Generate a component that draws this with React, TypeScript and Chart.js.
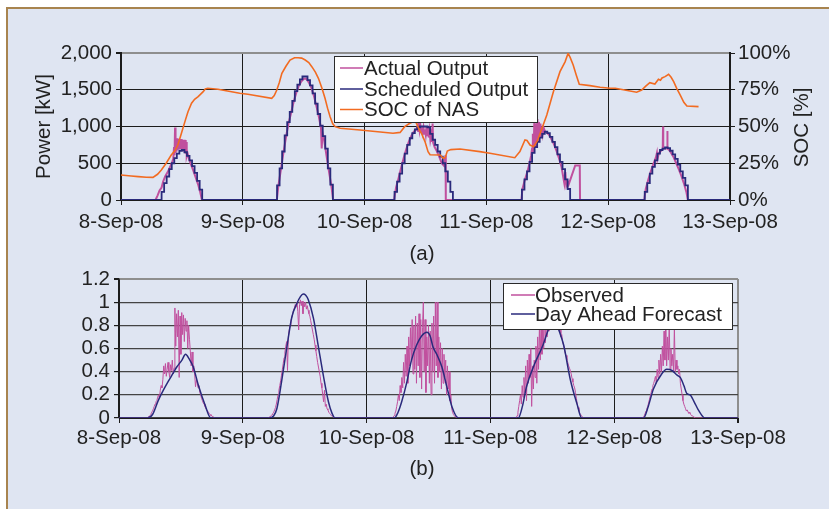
import React, { useEffect, useRef } from 'react';
import { Chart, registerables } from 'chart.js';

Chart.register(...registerables);

const FONT = '"Liberation Sans", Arial, Helvetica, sans-serif';
const FSIZE = 20.5;
const TEXT = '#222222';
const GRID = '#1c1c1c';
const GRAY = '#8e8e8e';
const PINK = '#c0509e';
const NAVY = '#2a2a7c';
const ORANGE = '#f26b21';

// ---------- shared axis labels ----------
const dayLabels = ['8-Sep-08', '9-Sep-08', '10-Sep-08', '11-Sep-08', '12-Sep-08', '13-Sep-08'];
const totalHours = 120;
const hoursPerDay = 24;

// ---------- (a) Scheduled output: half-hour steps (kW) ----------
const schedStarts = [8.0, 30.75, 53.9, 79.0, 103.2];
const schedStep = 0.5;
const schedDay1 = [110, 230, 320, 420, 500, 570, 630, 670, 680, 650, 600, 540, 460, 370, 260, 140];
const schedDay2 = [200, 430, 660, 880, 1060, 1200, 1350, 1480, 1570, 1640, 1680, 1680, 1630, 1560, 1450, 1310, 1170, 1010, 870, 700, 430, 210];
const schedDay3 = [110, 250, 360, 500, 630, 750, 840, 910, 960, 990, 1000, 1000, 1000, 990, 900, 820, 750, 660, 590, 500, 390, 250, 110];
const schedDay4 = [140, 280, 390, 520, 640, 720, 790, 850, 900, 930, 910, 860, 790, 720, 620, 520, 420, 280, 150];
const schedDay5 = [110, 230, 360, 450, 540, 630, 680, 700, 715, 705, 670, 620, 560, 480, 390, 300, 200];

// ---------- (a) Actual output [hour, kW] ----------
const actualDay1: [number, number][] = [[6.8,0],[7.2,60],[7.6,130],[8.0,170],[8.3,250],[8.7,320],[9.2,380],[9.6,440],[10.0,500],[10.3,560],[10.45,720],[10.55,610],[10.65,985],[10.75,640],[10.85,820],[10.95,660],[11.05,840],[11.15,680],[11.25,800],[11.35,690],[11.45,830],[11.55,700],[11.65,815],[11.75,690],[11.85,830],[11.95,700],[12.05,820],[12.15,690],[12.25,800],[12.35,660],[12.45,820],[12.55,650],[12.65,815],[12.75,630],[12.85,790],[12.95,600],[13.1,640],[13.4,560],[13.8,480],[14.2,410],[14.7,310],[15.2,210],[15.6,110],[15.95,0]];
const actualDay2: [number, number][] = [[30.7,0],[31.0,190],[31.5,410],[32.0,640],[32.5,850],[33.0,1040],[33.5,1180],[34.0,1330],[34.5,1450],[35.0,1550],[35.5,1610],[36.0,1650],[36.5,1650],[37.0,1600],[37.5,1530],[38.0,1420],[38.5,1280],[39.0,1130],[39.4,980],[39.55,700],[39.7,920],[40.0,830],[40.5,600],[41.0,380],[41.5,170],[41.8,0]];
const actualDay3: [number, number][] = [[53.8,0],[54.2,170],[54.7,300],[55.2,440],[55.7,570],[56.2,690],[56.7,790],[57.2,870],[57.7,930],[58.2,960],[58.4,1000],[58.55,940],[58.7,1080],[58.85,950],[59.0,1010],[59.15,930],[59.3,990],[59.45,920],[59.6,985],[59.75,900],[59.9,960],[60.05,890],[60.2,1000],[60.35,870],[60.5,990],[60.65,850],[60.8,940],[60.95,820],[61.1,880],[61.25,790],[61.4,1040],[61.5,780],[61.8,720],[62.2,670],[62.7,590],[63.2,500],[63.6,470],[63.95,610],[64.0,0]];
const actualDay4: [number, number][] = [[78.9,0],[79.1,150],[79.6,280],[80.1,390],[80.5,500],[80.8,600],[81.0,700],[81.15,900],[81.3,640],[81.45,1080],[81.6,720],[81.75,1040],[81.9,770],[82.05,1100],[82.2,800],[82.35,1060],[82.5,840],[82.65,1040],[82.8,870],[82.95,1000],[83.1,900],[83.3,980],[83.5,940],[83.9,915],[84.3,890],[84.8,830],[85.3,760],[85.8,670],[86.3,570],[86.8,450],[87.1,330],[87.35,230],[87.55,380],[87.75,200],[88.0,250],[88.2,210],[89.5,470],[90.4,470],[90.45,0]];
const actualDay5: [number, number][] = [[103.1,0],[103.4,150],[103.9,280],[104.4,390],[104.9,490],[105.4,580],[105.6,640],[105.7,560],[106.0,640],[106.4,670],[106.75,690],[106.8,1000],[106.85,700],[107.2,700],[107.6,700],[107.65,940],[107.7,700],[108.0,680],[108.4,640],[108.9,580],[109.4,500],[109.9,420],[110.4,330],[110.9,230],[111.4,110],[111.7,0]];

// ---------- (a) SOC of NAS [hour, %] ----------
const socPoints: [number, number][] = [[0,17.0],[2,16.3],[3.4,15.9],[5,15.5],[6.3,15.4],[7.2,17.5],[7.95,20.4],[8.9,25],[9.9,30.6],[10.6,33.5],[11.2,37.4],[11.7,43],[12.2,48.8],[12.7,54.5],[13.2,60.1],[13.9,65.8],[14.5,68.5],[15.2,70.3],[15.7,72],[16.2,73.7],[16.6,75.5],[17.1,76],[17.6,75.8],[19.1,75.3],[23.4,72.6],[25,71.9],[29.7,69.2],[30.2,71],[30.7,74.8],[31.2,80],[31.7,86.2],[32.5,91],[33.3,95.2],[34.2,96.8],[34.9,96.8],[35.6,96.5],[36.3,95.2],[37.0,93.5],[37.6,90.7],[38.3,87],[38.9,82.8],[39.6,76],[40.2,69.2],[40.7,62.5],[41.2,56.7],[41.7,52],[42.2,49.9],[43.2,48.8],[47.1,47.6],[49.1,46.9],[53.6,45.4],[55.0,46],[55.9,49.9],[56.9,52.2],[57.6,53.3],[58.2,52.5],[58.8,47.6],[59.2,45.4],[59.9,39.7],[60.5,32.9],[60.9,30.8],[62.9,30.6],[63.5,28.4],[63.9,29],[64.3,33.3],[65.0,34.3],[66.8,34.7],[70.7,32.9],[72.7,31.8],[77.6,28.8],[78.6,32.9],[79.6,40.8],[80.0,40.5],[80.6,37.4],[81.3,36.3],[82.0,40],[82.6,45.4],[83.9,57.8],[85.2,73.7],[86.5,87.3],[87.5,94],[88.1,99.8],[88.5,97],[89.1,91.8],[89.7,85],[90.3,78.7],[92.4,77.8],[94.4,76.7],[96.4,76],[97.4,76],[101.6,73.3],[102.6,74.8],[103.4,77.5],[104.2,79.8],[105.2,78.9],[105.9,82.1],[106.3,81.5],[106.6,83],[107.2,83.9],[107.9,85.5],[108.4,83.5],[108.9,80.5],[109.5,76],[110.2,71.4],[110.9,66.5],[111.5,63.9],[113.8,63.5]];

// ---------- (b) Observed: 10-minute samples (normalized) ----------
const obsStarts = [5.5, 29.0, 53.0, 77.0, 101.5];
const obsStep = 1 / 6;
const obsDay1 = [0,0.01,0.01,0.02,0.03,0.05,0.06,0.08,0.1,0.12,0.14,0.15,0.18,0.2,0.17,0.24,0.28,0.26,0.33,0.45,0.38,0.47,0.36,0.42,0.48,0.4,0.35,0.46,0.41,0.5,0.38,0.43,0.95,0.62,0.9,0.7,0.93,0.35,0.88,0.55,0.91,0.72,0.89,0.66,0.86,0.75,0.84,0.6,0.8,0.68,0.57,0.45,0.57,0.4,0.45,0.38,0.27,0.33,0.3,0.26,0.28,0.22,0.2,0.17,0.15,0.13,0.12,0.1,0.08,0.07,0.06,0.05,0.04,0.03,0.02,0.02,0.01,0.01,0];
const obsDay2 = [0,0.01,0.01,0.02,0.03,0.04,0.05,0.07,0.09,0.12,0.16,0.2,0.24,0.28,0.32,0.37,0.42,0.47,0.52,0.57,0.62,0.66,0.41,0.7,0.76,0.8,0.84,0.87,0.9,0.93,0.95,0.98,0.96,1.0,0.92,0.76,0.98,1.02,0.97,1.01,0.9,1.0,0.96,1.0,0.94,0.97,0.93,0.9,0.88,0.84,0.8,0.76,0.72,0.68,0.63,0.58,0.53,0.48,0.44,0.4,0.36,0.3,0.26,0.2,0.14,0.24,0.1,0.12,0.08,0.07,0.05,0.04,0.03,0.02,0.02,0.01,0.01,0];
const obsDay3 = [0,0.01,0.02,0.04,0.06,0.1,0.14,0.2,0.15,0.28,0.22,0.35,0.26,0.48,0.3,0.55,0.36,0.62,0.3,0.7,0.45,0.78,0.5,0.85,0.38,0.8,0.42,0.88,0.3,0.82,0.45,0.9,0.35,0.85,0.25,0.78,1.0,0.4,0.85,0.22,0.7,0.45,0.8,0.3,0.75,0.2,0.82,0.4,0.88,0.3,1.0,0.45,1.0,0.35,0.7,0.4,0.65,0.25,0.6,0.3,0.55,0.35,0.5,0.2,0.45,0.25,0.4,0.15,0.2,0.08,0.05,0.03,0.02,0.01,0.01,0];
const obsDay4 = [0,0.02,0.05,0.1,0.15,0.2,0.12,0.28,0.18,0.35,0.22,0.45,0.15,0.5,0.3,0.55,0.35,0.6,0.1,0.45,0.25,0.5,0.35,0.62,0.3,0.7,0.42,0.78,0.5,0.85,0.55,0.9,0.6,0.95,0.65,0.9,0.7,0.95,0.75,0.9,0.8,0.95,0.85,0.98,0.8,0.92,0.85,0.95,0.78,0.82,0.75,0.77,0.7,0.72,0.66,0.63,0.6,0.56,0.54,0.5,0.48,0.45,0.43,0.41,0.38,0.34,0.31,0.28,0.26,0.22,0.17,0.12,0.09,0.06,0.04,0.03,0.02,0.01,0];
const obsDay5 = [0,0.01,0.02,0.04,0.06,0.08,0.1,0.13,0.16,0.19,0.22,0.25,0.28,0.3,0.33,0.36,0.3,0.42,0.35,0.5,0.38,0.55,0.4,0.62,0.45,0.75,0.5,0.9,0.45,0.7,0.5,0.82,0.42,0.6,0.45,0.55,0.4,0.78,0.4,0.5,0.42,0.45,0.38,0.42,0.3,0.25,0.2,0.15,0.12,0.1,0.08,0.06,0.07,0.05,0.04,0.05,0.03,0.02,0.02,0.01,0.01,0];

// ---------- (b) Day-ahead forecast [hour, normalized] ----------
const fcDay1: [number, number][] = [[5.5,0],[6.5,0.03],[7.6,0.15],[8.6,0.24],[9.6,0.32],[10.4,0.38],[11.2,0.44],[12.2,0.5],[12.9,0.55],[13.6,0.51],[14.4,0.44],[15.4,0.28],[16.7,0.11],[17.8,0]];
const fcDay2: [number, number][] = [[29.1,0],[30.0,0.02],[30.6,0.08],[31.5,0.31],[32.5,0.6],[33.5,0.87],[34.5,0.99],[35.2,1.05],[35.7,1.07],[36.2,1.06],[36.7,1.02],[37.7,0.86],[38.6,0.63],[39.6,0.37],[40.6,0.14],[41.3,0.04],[41.9,0]];
const fcDay3: [number, number][] = [[53.4,0],[54.1,0.05],[54.8,0.14],[55.8,0.31],[56.7,0.5],[57.7,0.63],[58.7,0.71],[59.7,0.74],[60.3,0.71],[60.9,0.61],[61.6,0.55],[62.6,0.44],[63.5,0.28],[64.6,0.09],[65.8,0]];
const fcDay4: [number, number][] = [[77.4,0],[78.2,0.1],[79.0,0.27],[80.6,0.47],[82.2,0.63],[83.2,0.76],[84.0,0.84],[84.6,0.86],[85.2,0.77],[86.2,0.63],[87.5,0.33],[88.8,0.12],[89.7,0]];
const fcDay5: [number, number][] = [[101.7,0],[102.6,0.1],[103.6,0.25],[105.2,0.38],[106.2,0.42],[107.2,0.41],[108.2,0.37],[108.8,0.35],[109.5,0.28],[110.1,0.21],[110.7,0.2],[111.5,0.14],[112.3,0.07],[113.6,0]];

// ---------- helpers ----------
type P = { x: number; y: number };
const pairs = (arr: [number, number][]): P[] => arr.map(([x, y]) => ({ x, y }));
const sampled = (start: number, step: number, vals: number[]): P[] =>
  vals.map((y, i) => ({ x: start + i * step, y }));

function buildSchedule(): P[] {
  const days = [schedDay1, schedDay2, schedDay3, schedDay4, schedDay5];
  const out: P[] = [{ x: 0, y: 0 }];
  days.forEach((vals, d) => {
    out.push(...sampled(schedStarts[d], schedStep, vals));
    out.push({ x: schedStarts[d] + vals.length * schedStep, y: 0 });
  });
  out.push({ x: totalHours, y: 0 });
  return out;
}
function withEnds(parts: P[][]): P[] {
  return [{ x: 0, y: 0 }, ...parts.flat(), { x: totalHours, y: 0 }];
}

const font = { family: FONT, size: FSIZE };
const dayTick = (v: any) => {
  const i = Math.round(Number(v) / hoursPerDay);
  return dayLabels[i] ?? '';
};

function makeOverlay(cfg: any) {
  return {
    id: 'overlay',
    afterDraw(chart: any) {
      const ctx = chart.ctx as CanvasRenderingContext2D;
      ctx.save();
      ctx.font = `${FSIZE}px ${FONT}`;
      ctx.fillStyle = TEXT;
      if (cfg.caption) {
        ctx.textAlign = 'center';
        ctx.textBaseline = 'middle';
        ctx.fillText(cfg.caption.text, cfg.caption.x, cfg.caption.y);
      }
      if (cfg.rotTitle) {
        ctx.save();
        ctx.translate(cfg.rotTitle.x, cfg.rotTitle.y);
        ctx.rotate(-Math.PI / 2);
        ctx.textAlign = 'center';
        ctx.textBaseline = 'middle';
        ctx.fillText(cfg.rotTitle.text, 0, 0);
        ctx.restore();
      }
      if (cfg.legend) {
        const L = cfg.legend;
        ctx.fillStyle = '#ffffff';
        ctx.fillRect(L.x, L.y, L.w, L.h);
        ctx.strokeStyle = '#2a2a2a';
        ctx.lineWidth = 1;
        ctx.strokeRect(L.x + 0.5, L.y + 0.5, L.w, L.h);
        chart.data.datasets.forEach((ds: any, i: number) => {
          const y = L.rowY[i];
          ctx.strokeStyle = ds.borderColor;
          ctx.lineWidth = 1.5;
          ctx.beginPath();
          ctx.moveTo(L.lineX0, y);
          ctx.lineTo(L.lineX1, y);
          ctx.stroke();
          ctx.fillStyle = TEXT;
          ctx.textAlign = 'left';
          ctx.textBaseline = 'middle';
          ctx.fillText(ds.label, L.textX, y + 1);
        });
      }
      ctx.restore();
    },
  };
}

export default function App() {
  const refA = useRef<HTMLCanvasElement | null>(null);
  const refB = useRef<HTMLCanvasElement | null>(null);

  useEffect(() => {
    if (!refA.current || !refB.current) return;

    const chartA = new Chart(refA.current, {
      type: 'line',
      data: {
        datasets: [
          {
            label: 'Actual Output',
            data: withEnds([actualDay1, actualDay2, actualDay3, actualDay4, actualDay5].map(pairs)),
            borderColor: PINK,
            borderWidth: 2,
            pointRadius: 0,
            yAxisID: 'y',
            order: 2,
          },
          {
            label: 'Scheduled Output',
            data: buildSchedule(),
            borderColor: NAVY,
            borderWidth: 1.8,
            pointRadius: 0,
            stepped: true,
            yAxisID: 'y',
            order: 1,
          },
          {
            label: 'SOC of NAS',
            data: pairs(socPoints),
            borderColor: ORANGE,
            borderWidth: 1.6,
            pointRadius: 0,
            yAxisID: 'y1',
            order: 0,
          },
        ],
      } as any,
      options: {
        responsive: false,
        maintainAspectRatio: false,
        animation: false,
        devicePixelRatio: 1,
        parsing: false,
        normalized: true,
        layout: { padding: { top: 53, left: 0, right: 0, bottom: 25 } },
        plugins: { legend: { display: false }, tooltip: { enabled: false } },
        scales: {
          x: {
            type: 'linear',
            min: 0,
            max: totalHours,
            ticks: { stepSize: hoursPerDay, autoSkip: false, maxRotation: 0, padding: 5, color: TEXT, font, callback: dayTick },
            grid: { color: GRID, lineWidth: 1, tickLength: 5, tickColor: GRID },
            border: { display: true, color: GRID, width: 1 },
            afterFit: (s: any) => { s.height = 40; },
          },
          y: {
            position: 'left',
            min: 0,
            max: 2000,
            ticks: { stepSize: 500, autoSkip: false, padding: 4, color: TEXT, font, callback: (v: any) => Number(v).toLocaleString('en-US') },
            grid: {
              color: (c: any) => (c.tick && c.tick.value === 2000 ? GRAY : GRID),
              lineWidth: (c: any) => (c.tick && c.tick.value === 2000 ? 2 : 1),
              tickLength: 5,
              tickColor: GRID,
            },
            border: { display: true, color: GRID, width: 2 },
            title: { display: true, text: 'Power [kW]', color: TEXT, font, padding: { top: 32, bottom: 0 } },
            afterFit: (s: any) => { s.width = 121; },
          },
          y1: {
            position: 'right',
            min: 0,
            max: 100,
            ticks: { stepSize: 25, autoSkip: false, padding: 3, color: TEXT, font, callback: (v: any) => `${v}%` },
            grid: { drawOnChartArea: false, tickLength: 5, tickColor: GRID },
            border: { display: true, color: GRID, width: 2 },
            afterFit: (s: any) => { s.width = 99; },
          },
        },
      } as any,
      plugins: [
        makeOverlay({
          legend: { x: 334, y: 56, w: 203, h: 66, rowY: [68, 89, 109.5], lineX0: 340, lineX1: 363, textX: 364 },
          caption: { text: '(a)', x: 422, y: 254 },
          rotTitle: { text: 'SOC [%]', x: 802, y: 127.5 },
        }),
      ],
    });

    const chartB = new Chart(refB.current, {
      type: 'line',
      data: {
        datasets: [
          {
            label: 'Observed',
            data: withEnds([obsDay1, obsDay2, obsDay3, obsDay4, obsDay5].map((v, d) => sampled(obsStarts[d], obsStep, v))),
            borderColor: PINK,
            borderWidth: 1,
            pointRadius: 0,
            order: 1,
          },
          {
            label: 'Day Ahead Forecast',
            data: withEnds([fcDay1, fcDay2, fcDay3, fcDay4, fcDay5].map(pairs)),
            borderColor: NAVY,
            borderWidth: 1.5,
            pointRadius: 0,
            tension: 0.4,
            cubicInterpolationMode: 'monotone',
            order: 0,
          },
        ],
      } as any,
      options: {
        responsive: false,
        maintainAspectRatio: false,
        animation: false,
        devicePixelRatio: 1,
        parsing: false,
        layout: { padding: { top: 19, left: 0, right: 91, bottom: 32 } },
        plugins: { legend: { display: false }, tooltip: { enabled: false } },
        scales: {
          x: {
            type: 'linear',
            min: 0,
            max: totalHours,
            ticks: { stepSize: hoursPerDay, autoSkip: false, maxRotation: 0, padding: 3, color: TEXT, font, callback: dayTick },
            grid: {
              color: (c: any) => (c.tick && c.tick.value === totalHours ? GRAY : GRID),
              lineWidth: (c: any) => (c.tick && c.tick.value === totalHours ? 2 : 1),
              tickLength: 5,
              tickColor: GRID,
            },
            border: { display: true, color: GRID, width: 1 },
            afterFit: (s: any) => { s.height = 40; },
          },
          y: {
            position: 'left',
            min: 0,
            max: 1.2,
            ticks: { stepSize: 0.2, autoSkip: false, padding: 4, color: TEXT, font, callback: (v: any) => String(Number(Number(v).toFixed(1))) },
            grid: {
              color: (c: any) => (c.tick && c.tick.value > 1.19 ? GRAY : '#444444'),
              lineWidth: (c: any) => (c.tick && c.tick.value > 1.19 ? 2 : 1.2),
              tickLength: 5,
              tickColor: GRID,
            },
            border: { display: true, color: GRID, width: 1.5 },
            afterFit: (s: any) => { s.width = 119; },
          },
        },
      } as any,
      plugins: [
        makeOverlay({
          legend: { x: 503, y: 23, w: 229, h: 46, rowY: [35, 54], lineX0: 511, lineX1: 535, textX: 535 },
          caption: { text: '(b)', x: 422, y: 209 },
        }),
      ],
    });

    return () => {
      chartA.destroy();
      chartB.destroy();
    };
  }, []);

  return (
    <div style={{ position: 'fixed', left: 0, top: 0, width: 829, height: 509, background: '#ffffff', overflow: 'hidden' }}>
      <div
        style={{
          position: 'absolute',
          left: 6,
          top: 7,
          width: 900,
          height: 600,
          border: '2px solid #a8844f',
          background: '#dfe5f2',
          boxSizing: 'border-box',
        }}
      />
      <canvas
        ref={refA}
        width={829}
        height={265}
        style={{ position: 'absolute', left: 0, top: 0, width: 829, height: 265, display: 'block' }}
      />
      <canvas
        ref={refB}
        width={829}
        height={230}
        style={{ position: 'absolute', left: 0, top: 260, width: 829, height: 230, display: 'block' }}
      />
    </div>
  );
}
